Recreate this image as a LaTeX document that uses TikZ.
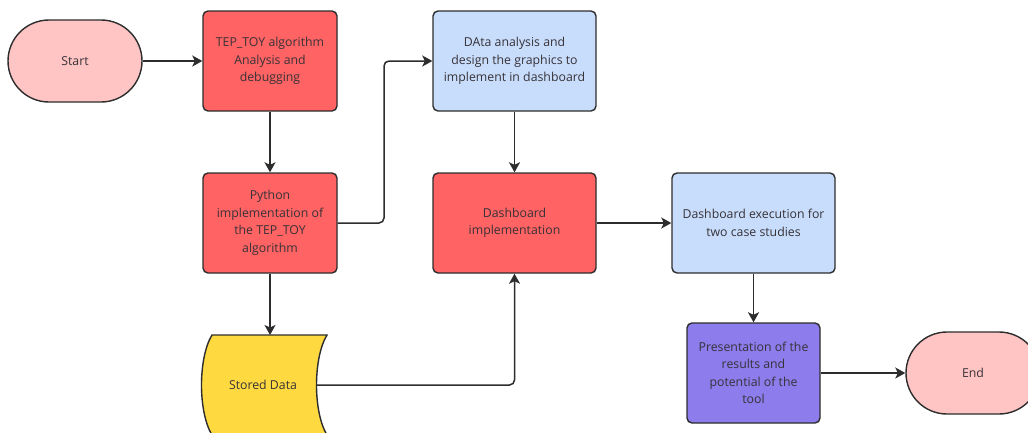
\documentclass[tikz,border=0pt]{standalone}
\usepackage{fontspec}
\setmainfont{Open Sans}
\usetikzlibrary{arrows.meta}
\definecolor{redbox}{RGB}{255,99,99}
\definecolor{pinkbox}{RGB}{255,196,196}
\definecolor{bluebox}{RGB}{200,221,252}
\definecolor{purplebox}{RGB}{140,124,236}
\definecolor{yellowbox}{RGB}{255,217,64}
\definecolor{edge}{RGB}{45,45,45}
\definecolor{txt}{RGB}{55,50,55}
\begin{document}
\begin{tikzpicture}[x=1pt,y=-1pt,
  lbl/.style={font=\fontsize{12.3}{17.5}\selectfont, text=txt},
  box/.style={lbl, draw=edge, line width=1.4pt, rounded corners=5pt, minimum width=134pt, minimum height=100pt, align=center, inner sep=0pt},
  wide/.style={box, minimum width=163pt},
  term/.style={box, fill=pinkbox, minimum height=82pt, rounded corners=41pt},
  conn/.style={draw=edge, line width=1.5pt, rounded corners=5pt, -{Stealth[length=10pt,width=11pt,inset=2.5pt]}}]
\useasboundingbox (0,0) rectangle (1028,432);
\clip (0,0) rectangle (1028,432);
\fill[white] (0,0) rectangle (1028,432);
\node[term] (start) at (75,61) {Start};
\node[box, fill=redbox] (tep) at (270,61) {TEP\_TOY algorithm\\Analysis and\\debugging};
\node[box, fill=redbox] (py) at (270,223) {Python\\implementation of\\the TEP\_TOY\\algorithm};
\node[wide, fill=bluebox] (da) at (514.5,61) {DAta analysis and\\design the graphics to\\implement in dashboard};
\node[wide, fill=redbox] (dash) at (514.5,223) {Dashboard\\implementation};
\node[wide, fill=bluebox] (exec) at (753.5,223) {Dashboard execution for\\two case studies};
\node[box, fill=purplebox, minimum width=133pt] (pres) at (753.5,373) {Presentation of the\\results and\\potential of the\\tool};
\node[term] (end) at (973,373) {End};
% stored data shape
\draw[draw=edge, line width=1.4pt, fill=yellowbox]
  (212,335) -- (327,335) .. controls (313,358) and (313,412) .. (327,435)
  -- (212,435) .. controls (198,412) and (198,358) .. (212,335) -- cycle;
\node[lbl] (sd) at (263,385) {Stored Data};
\coordinate (sdtop) at (270,335);
\coordinate (sdright) at (317,385);
% connectors
\draw[conn] (start.east) -- (tep.west);
\draw[conn] (tep.south) -- (py.north);
\draw[conn] (py.east) -- (384,223) |- (da.west);
\draw[conn] (da.south) -- (dash.north);
\draw[conn] (py.south) -- (sdtop);
\draw[conn] (sdright) -| (dash.south);
\draw[conn] (dash.east) -- (exec.west);
\draw[conn] (exec.south) -- (pres.north);
\draw[conn] (pres.east) -- (end.west);
\end{tikzpicture}
\end{document}
